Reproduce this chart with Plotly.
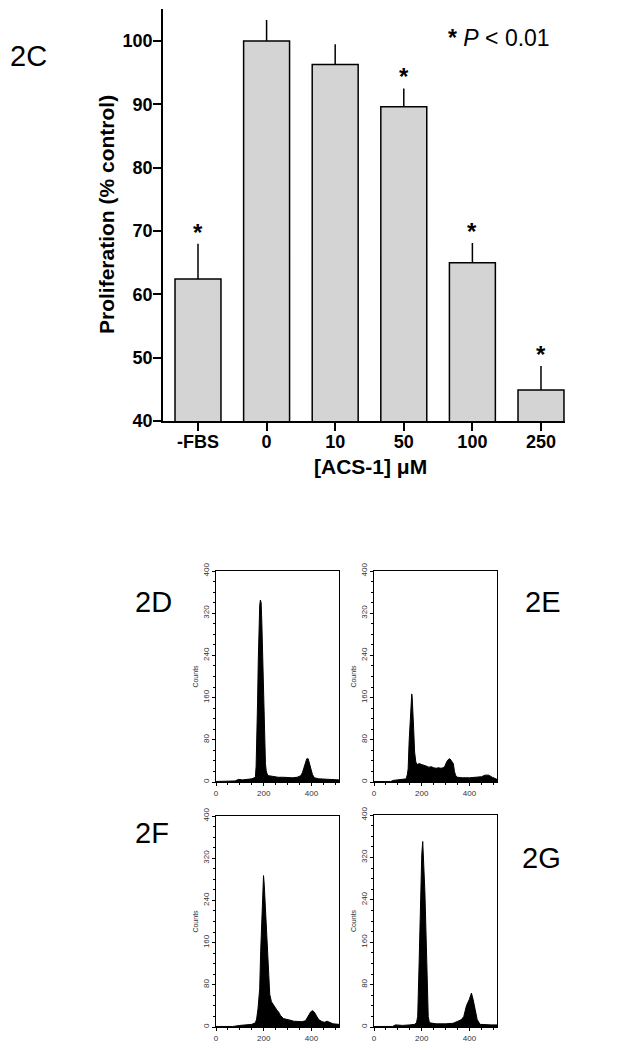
import plotly.graph_objects as go

# 2C: proliferation (% control) vs ACS-1 dose
dose_labels = ["-FBS", "0", "10", "50", "100", "250"]
prolif = [62.4, 100.0, 96.3, 89.6, 65.0, 44.9]
prolif_err = [5.6, 3.3, 3.2, 2.9, 3.1, 3.8]
signif = [True, False, False, True, True, True]

# 2D-2G: DNA content histograms, (channel, counts)
hist_2d_ch = [0, 40, 80, 95, 110, 130, 150, 160, 165, 168, 171, 174, 177, 180, 183, 186, 189,
              192, 195, 198, 201, 204, 207, 210, 214, 220, 240, 260, 280, 300, 320, 340, 355,
              362, 368, 374, 380, 386, 392, 398, 404, 412, 430, 460, 490, 515]
hist_2d_counts = [1, 1, 2, 5, 4, 5, 6, 8, 10, 30, 70, 150, 230, 300, 335, 345, 340,
                  300, 250, 180, 110, 60, 35, 22, 15, 12, 10, 9, 9, 8, 8, 9, 12,
                  18, 28, 38, 44, 44, 36, 24, 14, 8, 6, 5, 4, 4]

hist_2e_ch = [0, 70, 80, 100, 120, 135, 140, 143, 147, 150, 153, 156, 158, 160, 163, 166, 170,
              175, 180, 190, 200, 210, 220, 230, 240, 250, 260, 270, 280, 290, 297, 304, 312,
              318, 325, 332, 337, 342, 350, 370, 400, 430, 450, 465, 480, 495, 510, 515]
hist_2e_counts = [1, 1, 3, 4, 5, 6, 15, 25, 76, 110, 126, 155, 167, 160, 140, 101, 57,
                  38, 33, 35, 33, 32, 30, 28, 29, 27, 26, 27, 26, 27, 30, 38, 43,
                  44, 40, 35, 20, 12, 9, 8, 8, 9, 10, 13, 13, 9, 6, 5]

hist_2f_ch = [0, 70, 100, 130, 150, 165, 170, 176, 183, 187, 193, 197, 199, 202, 204, 208, 214,
              220, 225, 232, 240, 246, 255, 261, 270, 282, 295, 310, 325, 340, 360, 375, 387,
              397, 405, 412, 422, 430, 444, 455, 465, 475, 490, 515]
hist_2f_counts = [1, 1, 3, 4, 5, 8, 15, 35, 73, 143, 220, 270, 287, 270, 252, 194, 143,
                  99, 62, 48, 42, 38, 32, 29, 22, 16, 14, 13, 11, 10, 10, 12, 22,
                  29, 31, 28, 20, 14, 10, 9, 11, 9, 6, 5]

hist_2g_ch = [0, 77, 90, 120, 150, 170, 178, 183, 189, 194, 200, 204, 208, 213, 218, 223, 227,
              232, 260, 300, 331, 352, 366, 376, 387, 399, 408, 415, 423, 432, 444, 470, 490, 515]
hist_2g_counts = [1, 1, 4, 3, 4, 5, 8, 20, 122, 237, 326, 350, 313, 256, 173, 71, 20,
                  8, 6, 6, 7, 11, 14, 20, 40, 52, 64, 52, 33, 14, 5, 4, 4, 4]

# page body adds an 8px margin, so the figure is drawn from (8, 8) of the window
OFF = 8
W, H = 628 - OFF, 1050 - OFF
FONT = "Arial, Liberation Sans, sans-serif"


def px_x(v):
    return (v - OFF) / W


def px_y(v):
    return 1 - (v - OFF) / H


fig = go.Figure()

# ---- 2C bar chart
fig.add_trace(go.Bar(
    x=list(range(len(dose_labels))), y=prolif, width=0.67,
    marker=dict(color="#d4d4d4", line=dict(color="black", width=1.5)),
    error_y=dict(type="data", symmetric=False, array=prolif_err,
                 arrayminus=[0] * len(prolif), color="black", thickness=1.5, width=0),
))

annotations = []
for i, (v, e, s) in enumerate(zip(prolif, prolif_err, signif)):
    if s:
        annotations.append(dict(x=i, y=v + e, xref="x", yref="y", text="<b>*</b>",
                                showarrow=False, yanchor="bottom", yshift=-4,
                                font=dict(family=FONT, size=24, color="black")))

bold18 = dict(family=FONT, size=18, color="black", weight="bold")
bold21 = dict(family=FONT, size=21, color="black", weight="bold")
fig.update_layout(
    xaxis=dict(domain=[px_x(163), px_x(565)], anchor="y", range=[-0.51, 5.35],
               tickvals=list(range(len(dose_labels))), ticktext=dose_labels,
               showline=True, linecolor="black", linewidth=1.5, ticks="outside",
               ticklen=8, tickwidth=1.5, tickcolor="black", showgrid=False,
               zeroline=False, automargin=False, tickfont=bold18, ticklabelstandoff=-4),
    yaxis=dict(domain=[px_y(421), px_y(9.3)], anchor="x", range=[40, 105],
               tickvals=[40, 50, 60, 70, 80, 90, 100],
               showline=True, linecolor="black", linewidth=1.5, ticks="outside",
               ticklen=8, tickwidth=1.5, tickcolor="black", showgrid=False, zeroline=False,
               automargin=False, tickfont=bold18, ticklabelstandoff=-3),
)

annotations += [
    dict(x=px_x(107), y=px_y(215), xref="paper", yref="paper", textangle=-90,
         xanchor="center", yanchor="middle",
         text="Proliferation (% control)", showarrow=False, font=bold21),
    dict(x=px_x(370), y=px_y(466), xref="paper", yref="paper",
         xanchor="center", yanchor="middle",
         text="[ACS-1] \u03bcM", showarrow=False, font=bold21),
    dict(x=px_x(446), y=px_y(38), xref="paper", yref="paper", xanchor="left",
         yanchor="middle", text="<b>*</b> <i>P</i> &lt; 0.01", showarrow=False,
         font=dict(family=FONT, size=23, color="black")),
]

# ---- panel labels
for txt, x, y in [("2C", 8, 56), ("2D", 133, 602), ("2E", 523, 602),
                  ("2F", 133, 833), ("2G", 520, 858)]:
    annotations.append(dict(x=px_x(x), y=px_y(y), xref="paper", yref="paper",
                            xanchor="left", yanchor="middle", text=txt, showarrow=False,
                            font=dict(family=FONT, size=29, color="black")))

# ---- 2D-2G histograms
small = dict(family=FONT, size=7, color="#333")
panels = [
    (2, hist_2d_ch, hist_2d_counts, [216, 339], [571, 782]),
    (3, hist_2e_ch, hist_2e_counts, [374, 497], [571, 782]),
    (4, hist_2f_ch, hist_2f_counts, [216, 339], [816, 1027]),
    (5, hist_2g_ch, hist_2g_counts, [374, 497], [815, 1027]),
]
for n, ch, cnt, xs, ys in panels:
    fig.add_trace(go.Scatter(x=ch, y=cnt, xaxis=f"x{n}", yaxis=f"y{n}", mode="lines",
                             fill="tozeroy", fillcolor="black",
                             line=dict(color="black", width=1)))
    fig.update_layout(**{
        f"xaxis{n}": dict(domain=[px_x(xs[0]), px_x(xs[1])], anchor=f"y{n}",
                          range=[0, 515], tickvals=[0, 200, 400], showgrid=False,
                          zeroline=False, showline=True, mirror=True, linecolor="black",
                          linewidth=1, ticks="outside", ticklen=3, tickcolor="black",
                          automargin=False,
                          tickfont=dict(family=FONT, size=8, color="#333"),
                          minor=dict(dtick=50, ticks="outside", ticklen=2, tickcolor="black")),
        f"yaxis{n}": dict(domain=[px_y(ys[1]), px_y(ys[0])], anchor=f"x{n}",
                          range=[0, 400], dtick=80, tickangle=-90, showgrid=False,
                          zeroline=False, showline=True, mirror=True, linecolor="black",
                          linewidth=1, ticks="outside", ticklen=3, tickcolor="black",
                          automargin=False,
                          tickfont=dict(family=FONT, size=8, color="#333"),
                          minor=dict(dtick=20, ticks="outside", ticklen=2, tickcolor="black"),
                          title=dict(text="Counts", font=small, standoff=2)),
    })

fig.update_layout(
    width=W, height=H, margin=dict(l=0, r=0, t=0, b=0, autoexpand=False),
    paper_bgcolor="white", plot_bgcolor="white", showlegend=False,
    annotations=annotations,
)

fig.write_html("out.html")
